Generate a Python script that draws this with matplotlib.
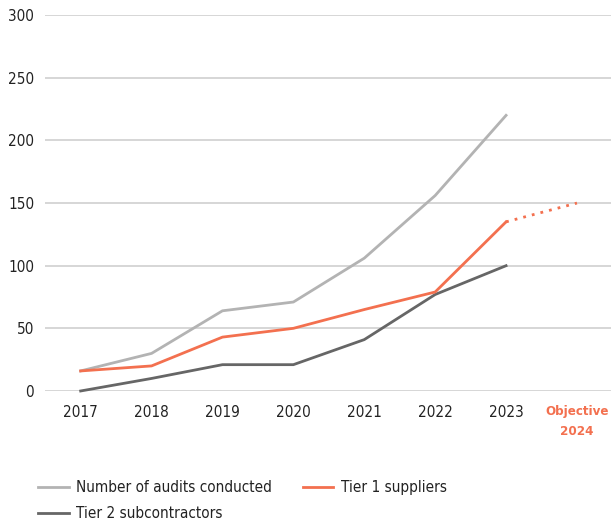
import matplotlib.pyplot as plt
import numpy as np

plt.rcParams['font.family'] = ['DejaVu Sans']
plt.rcParams['font.stretch'] = 'condensed'

years = ["2017", "2018", "2019", "2020", "2021", "2022", "2023"]
objectiveLabel = "Objective\n2024"

audits = [16, 30, 64, 71, 106, 156, 220]
tier1 = [16, 20, 43, 50, 65, 79, 135]
tier1Objective = 150
tier2 = [0, 10, 21, 21, 41, 77, 100]

grayColor = "#b3b3b3"
orangeColor = "#f3704f"
darkColor = "#666666"

fig = plt.figure(figsize=(6.11, 5.22), dpi=100)
ax = fig.add_axes([0.074, 0.251, 0.926, 0.720])

xData = np.arange(len(years))

lineAudits, = ax.plot(xData, audits, color=grayColor, lw=2, clip_on=False, zorder=3)
lineTier1, = ax.plot(xData, tier1, color=orangeColor, lw=2, clip_on=False, zorder=4)
ax.plot([xData[-1], len(years)], [tier1[-1], tier1Objective], color=orangeColor,
        lw=2, linestyle=(0, (1, 2.2)), clip_on=False, zorder=4)
lineTier2, = ax.plot(xData, tier2, color=darkColor, lw=2, clip_on=False, zorder=3)

ax.set_xlim(-0.5, 7.48)
ax.set_ylim(0, 300)
ax.set_yticks(range(0, 301, 50))
ax.set_xticks(list(xData) + [len(years)])
ax.set_xticklabels(years + [objectiveLabel])

ax.grid(axis="y", color="#cfcfcf", lw=1.2)
ax.set_axisbelow(True)
for spine in ax.spines.values():
    spine.set_visible(False)
ax.tick_params(axis="both", length=0, labelsize=11, colors="#222222")
ax.tick_params(axis="x", pad=10)
ax.tick_params(axis="y", pad=8)

objTick = ax.get_xticklabels()[-1]
objTick.set_color(orangeColor)
objTick.set_fontweight("bold")
objTick.set_fontsize(9.5)
objTick.set_linespacing(1.7)

fig.legend([lineAudits, lineTier2, lineTier1],
           ["Number of audits conducted", "Tier 2 subcontractors", "Tier 1 suppliers"],
           ncol=2, frameon=False, loc="upper left", bbox_to_anchor=(0.04, 0.106),
           fontsize=11, handlelength=2.0, handletextpad=0.5, columnspacing=2.0,
           labelspacing=0.7, labelcolor="#222222")

fig.savefig("out.png", dpi=100)
